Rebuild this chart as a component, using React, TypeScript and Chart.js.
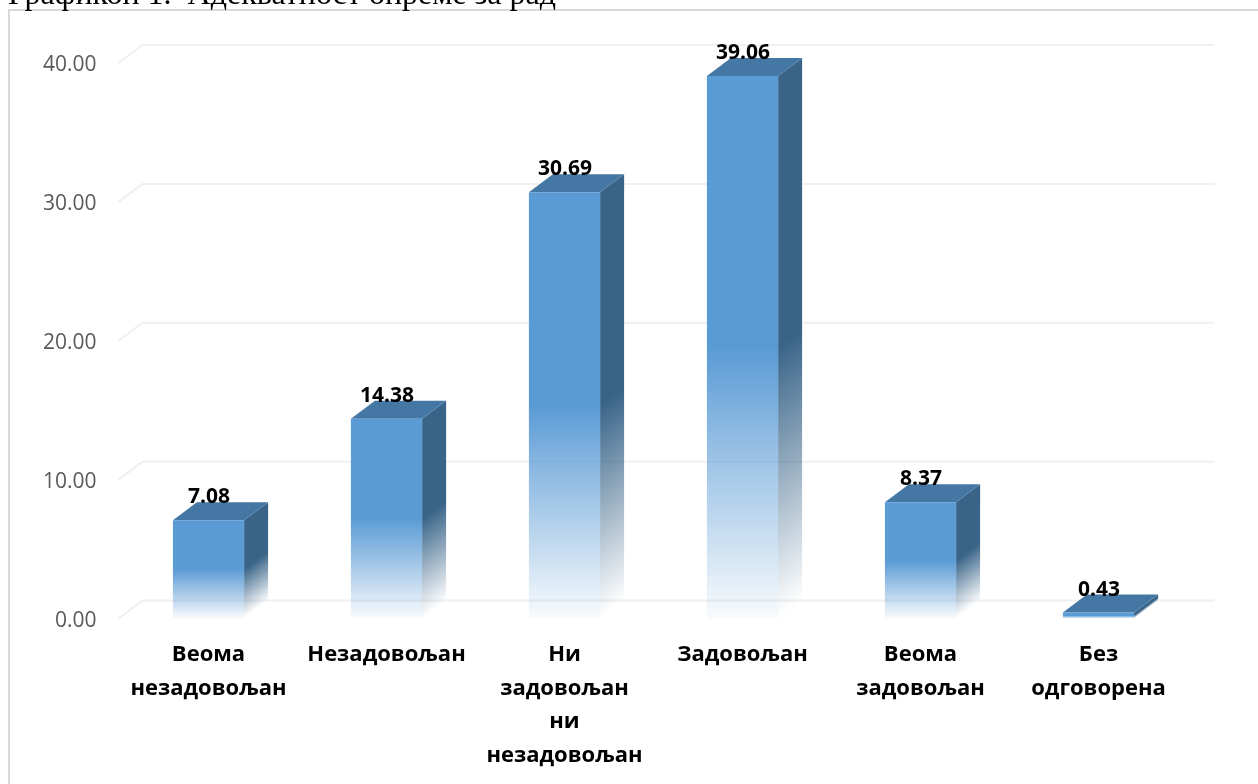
import React, { useEffect, useRef } from "react";
import { Chart, registerables } from "chart.js";

Chart.register(...registerables);

const categories = [
  ["Веома", "незадовољан"],
  ["Незадовољан"],
  ["Ни", "задовољан", "ни", "незадовољан"],
  ["Задовољан"],
  ["Веома", "задовољан"],
  ["Без", "одговорена"],
];
const values = [7.08, 14.38, 30.69, 39.06, 8.37, 0.43];
const captionText = "Графикон 1.  Адекватност опреме за рад";

const DX = 24;
const DY = 18;
const FONT = '"Open Sans", sans-serif';

const rgba = (c: number[], a: number) => `rgba(${c[0]},${c[1]},${c[2]},${a})`;
const FRONT = [91, 155, 213];
const SIDE = [57, 100, 136];
const TOP = "#4577A5";

const depthPlugin = {
  id: "depth3d",
  beforeDatasetsDraw(chart: any) {
    const { ctx, scales } = chart;
    const y = scales.y;
    const x = scales.x;
    ctx.save();
    // gridlines on wall + floor of the 3D box
    ctx.strokeStyle = "#F0F0F0";
    ctx.lineWidth = 2;
    y.ticks.forEach((_: any, i: number) => {
      const py = y.getPixelForTick(i);
      ctx.beginPath();
      ctx.moveTo(x.left - 1, py);
      ctx.lineTo(x.left + DX - 1, py - DY);
      ctx.lineTo(x.right + DX + 3, py - DY);
      ctx.stroke();
    });
    // side + top of each bar
    chart.getDatasetMeta(0).data.forEach((bar: any) => {
      const l = bar.x - bar.width / 2;
      const r = bar.x + bar.width / 2;
      const t = bar.y;
      const b = bar.base;
      const mid = (t + b) / 2;
      const k = 0.8 * (b - mid);
      const g = ctx.createLinearGradient(r, mid, r + 0.6 * k, mid + 0.8 * k);
      g.addColorStop(0, rgba(SIDE, 1));
      g.addColorStop(1, rgba(SIDE, 0));
      ctx.fillStyle = g;
      ctx.beginPath();
      ctx.moveTo(r, t);
      ctx.lineTo(r + DX, t - DY);
      ctx.lineTo(r + DX, b - DY);
      ctx.lineTo(r, b);
      ctx.closePath();
      ctx.fill();
      ctx.fillStyle = TOP;
      ctx.beginPath();
      ctx.moveTo(l, t);
      ctx.lineTo(l + DX, t - DY);
      ctx.lineTo(r + DX, t - DY);
      ctx.lineTo(r, t);
      ctx.closePath();
      ctx.fill();
    });
    ctx.restore();
  },
  afterDatasetsDraw(chart: any) {
    const { ctx } = chart;
    ctx.save();
    ctx.fillStyle = "#000000";
    ctx.font = `bold 21px ${FONT}`;
    ctx.textAlign = "center";
    ctx.textBaseline = "middle";
    chart.getDatasetMeta(0).data.forEach((bar: any, i: number) => {
      ctx.fillText(values[i].toFixed(2), bar.x + 0.5, bar.y - 23);
    });
    ctx.restore();
  },
};

export default function App() {
  const ref = useRef<HTMLCanvasElement>(null);
  useEffect(() => {
    const chart = new Chart(ref.current!, {
      type: "bar",
      plugins: [depthPlugin],
      data: {
        labels: categories,
        datasets: [
          {
            data: values,
            categoryPercentage: 0.4,
            barPercentage: 1,
            borderWidth: 0,
            backgroundColor: (c: any) => {
              const { chart: ch, raw } = c;
              const s = ch.scales?.y;
              if (!s || raw === undefined) return rgba(FRONT, 1);
              const t = s.getPixelForValue(raw);
              const b = s.getPixelForValue(0);
              if (!Number.isFinite(t) || !Number.isFinite(b)) return rgba(FRONT, 1);
              const g = ch.ctx.createLinearGradient(0, t, 0, b);
              g.addColorStop(0, rgba(FRONT, 1));
              g.addColorStop(0.5, rgba(FRONT, 1));
              g.addColorStop(1, rgba(FRONT, 0.04));
              return g;
            },
          },
        ],
      },
      options: {
        animation: false,
        responsive: false,
        devicePixelRatio: 1,
        layout: { padding: { top: 63, right: 70.5, left: 0, bottom: 0 } },
        plugins: { legend: { display: false }, tooltip: { enabled: false }, title: { display: false } },
        scales: {
          x: {
            grid: { display: false },
            border: { display: false },
            afterFit: (s: any) => {
              s.height = 784 - 618.5;
            },
            ticks: {
              color: "#000000",
              padding: 12,
              maxRotation: 0,
              autoSkip: false,
              font: { family: '"Open Sans", sans-serif', size: 22, weight: "bold", lineHeight: 1.52 },
            },
          },
          y: {
            min: 0,
            max: 40,
            grid: { display: false },
            border: { display: false },
            afterFit: (s: any) => {
              s.width = 119.5;
            },
            ticks: {
              stepSize: 10,
              color: "#595959",
              padding: 15,
              labelOffset: 2.5,
              font: { family: '"Open Sans", sans-serif', size: 21 },
              callback: (v: any) => Number(v).toFixed(2),
            },
          },
        },
      },
    } as any);
    return () => chart.destroy();
  }, []);

  return (
    <div style={{ position: "fixed", left: 0, top: 0, width: 1258, height: 784, overflow: "hidden", background: "#fff" }}>
      <canvas ref={ref} width={1258} height={784} style={{ position: "absolute", left: 0, top: 0, display: "block" }} />
      <div
        style={{
          position: "absolute",
          left: 8,
          top: 9,
          width: 1260,
          height: 790,
          boxSizing: "border-box",
          border: "2px solid #D9D9D9",
          pointerEvents: "none",
        }}
      />
      <div
        style={{
          position: "absolute",
          left: 8,
          top: -25,
          font: '32px "Liberation Serif", serif',
          lineHeight: "36px",
          color: "#000",
          whiteSpace: "pre",
        }}
      >
        {captionText}
      </div>
    </div>
  );
}
